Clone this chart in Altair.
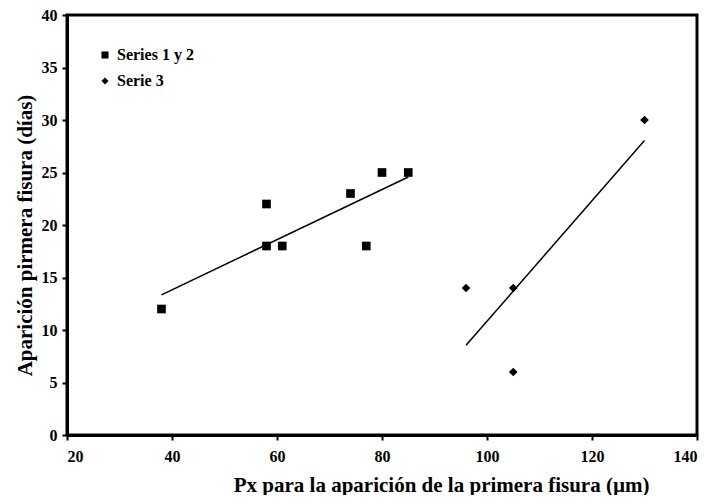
import altair as alt
import pandas as pd

series_names = ["Series 1 y 2", "Serie 3"]

s1_x = [38, 58, 58, 61, 74, 77, 80, 85]
s1_y = [12, 22, 18, 18, 23, 18, 25, 25]
s3_x = [96, 105, 105, 130]
s3_y = [14, 14, 6, 30]

x_ticks = [20, 40, 60, 80, 100, 120, 140]
y_ticks = [0, 5, 10, 15, 20, 25, 30, 35, 40]

df = pd.DataFrame({
    "x": s1_x + s3_x,
    "y": s1_y + s3_y,
    "series": [series_names[0]] * len(s1_x) + [series_names[1]] * len(s3_x),
})

FONT = "Liberation Serif"

xs = alt.Scale(domain=[20, 140], nice=False, zero=False)
ys = alt.Scale(domain=[0, 40], nice=False)

xaxis = alt.Axis(values=x_ticks, title="Px para la aparición de la primera fisura (µm)",
                 grid=False, labelFont=FONT, labelFontWeight="bold", labelFontSize=16,
                 labelColor="black", titleFont=FONT, titleFontWeight="bold", titleFontSize=21,
                 titleColor="black", domainColor="black", domainWidth=3, tickColor="black",
                 tickWidth=2, tickSize=5, labelPadding=8, titlePadding=10,
                 titleAnchor="end", titleX=582)
yaxis = alt.Axis(values=y_ticks, title="Aparición pirmera fisura (días)",
                 grid=False, labelFont=FONT, labelFontWeight="bold", labelFontSize=16,
                 labelColor="black", titleFont=FONT, titleFontWeight="bold", titleFontSize=21,
                 titleColor="black", domainColor="black", domainWidth=3, tickColor="black",
                 tickWidth=2, tickSize=5, labelPadding=5, titlePadding=6, titleY=220)

points = alt.Chart(df).mark_point(filled=True, opacity=1, size=75, color="black").encode(
    x=alt.X("x:Q", scale=xs, axis=xaxis),
    y=alt.Y("y:Q", scale=ys, axis=yaxis),
    shape=alt.Shape("series:N",
                    scale=alt.Scale(domain=series_names, range=["square", "diamond"]),
                    legend=alt.Legend(title=None, orient="none", legendX=30, legendY=32,
                                      labelFont=FONT, labelFontWeight="bold", labelFontSize=16,
                                      labelColor="black", symbolSize=50, symbolFillColor="black",
                                      symbolStrokeColor="black", rowPadding=10, labelOffset=4)),
)

lines = alt.Chart(df).transform_regression(
    "x", "y", groupby=["series"]
).mark_line(color="black", strokeWidth=1.5).encode(
    x=alt.X("x:Q", scale=xs),
    y=alt.Y("y:Q", scale=ys),
    detail="series:N",
)

chart = alt.layer(lines, points).properties(
    width=630, height=420,
    autosize=alt.AutoSizeParams(type="none"),
    padding={"left": 59, "top": 7, "right": 2, "bottom": 60},
    background="white",
).configure_view(stroke="black", strokeWidth=3)

chart.save("out.html", embed_options={"renderer": "svg", "actions": False})
